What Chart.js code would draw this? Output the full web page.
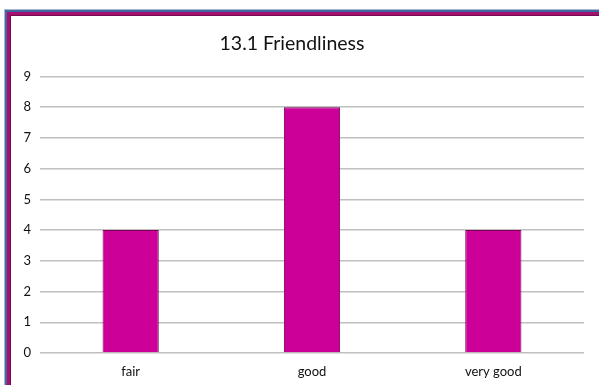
<!DOCTYPE html>
<html>
<head>
<meta charset="utf-8">
<script src="https://cdn.jsdelivr.net/npm/chart.js@4"></script>
<style>
  html, body { margin: 0; padding: 0; background: #fff; }
  #wrap { position: relative; width: 599px; height: 385px; overflow: hidden; }
  .frame { position: absolute; left: 4px; top: 9px; right: -10px; bottom: -10px;
           border-left: 1px solid #a9b8cc; border-top: 1px solid #a9b8cc; }
  .frame .b2 { width: 100%; height: 100%; border-left: 2px solid #3f68a0; border-top: 2px solid #3f68a0; box-sizing: border-box; }
  .frame .b3 { width: 100%; height: 100%; border-left: 3px solid #a3106f; border-top: 3px solid #a3106f; box-sizing: border-box; }
  .frame .b4 { width: 100%; height: 100%; border-left: 1px solid #7a0a50; border-top: 1px solid #7a0a50; box-sizing: border-box; }
  canvas { position: absolute; left: 0; top: 0; }
</style>
</head>
<body>
<div id="wrap">
  <div class="frame"><div class="b2"><div class="b3"><div class="b4"></div></div></div></div>
  <canvas id="friendlinessChart" width="599" height="385"></canvas>
</div>
<script>
const categories = ["fair", "good", "very good"];
const counts = [4, 8, 4];
const yTicks = [0, 1, 2, 3, 4, 5, 6, 7, 8, 9];

const ctx = document.getElementById("friendlinessChart").getContext("2d");
const chart = new Chart(ctx, {
  type: "bar",
  data: {
    labels: categories,
    datasets: [
      {
        label: "Friendliness",
        data: counts,
        backgroundColor: "#cc0099",
        borderColor: "#7a0058",
        borderWidth: 1,
        barPercentage: 0.31,
        categoryPercentage: 1,
      },
    ],
  },
  options: {
    responsive: false,
    animation: false,
    layout: { padding: { top: 32, right: 15, bottom: 0, left: 0 } },
    plugins: {
      legend: { display: false },
      tooltip: { enabled: false },
      title: {
        display: true,
        text: "13.1 Friendliness",
        color: "#111",
        font: { family: "Lato", size: 19.5, weight: "normal" },
        padding: { top: 0, bottom: 21 },
      },
    },
    scales: {
      x: {
        grid: { display: false, drawTicks: false },
        border: { display: false },
        ticks: { color: "#111", font: { family: "Lato", size: 13 }, padding: 11 },
        afterFit: (scale) => { scale.height = 32; },
      },
      y: {
        min: 0,
        max: 9,
        afterBuildTicks: (scale) => { scale.ticks = yTicks.map((v) => ({ value: v })); },
        grid: { color: "#c0c0c0", lineWidth: 1.5, drawTicks: false },
        border: { display: false },
        ticks: { color: "#111", font: { family: "Lato", size: 13 }, padding: 9 },
        afterFit: (scale) => { scale.width = 40; },
      },
    },
  },
});
</script>
</body>
</html>
